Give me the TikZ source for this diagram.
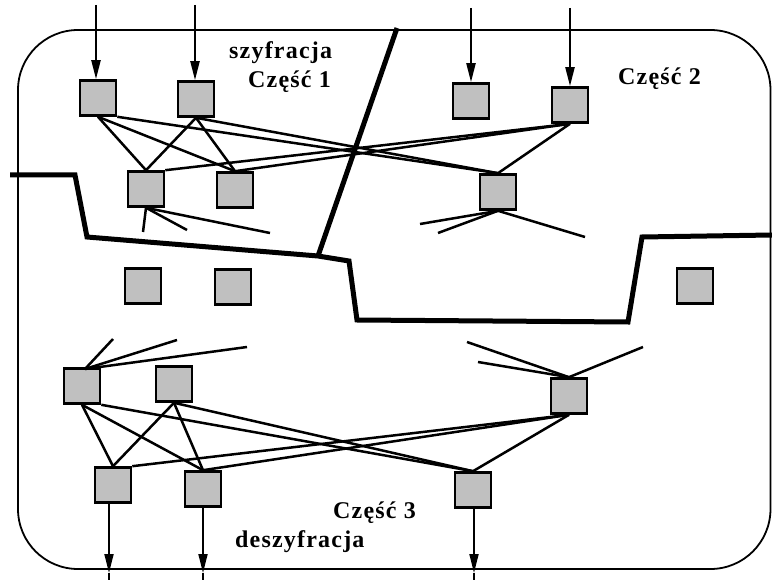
\documentclass[tikz,border=0pt]{standalone}
\usepackage{fontspec}
\setmainfont{Liberation Serif}
\newfontfamily\lblfont[LetterSpace=5]{Liberation Serif}
\usetikzlibrary{arrows.meta}
\definecolor{boxgray}{RGB}{192,192,192}
\begin{document}
\begin{tikzpicture}[x=1pt,y=-1pt,
  unit/.style={draw=black, line width=2.6pt, fill=boxgray, minimum width=36pt, minimum height=35pt, inner sep=0pt},
  frame/.style={line width=1.8pt},
  wall/.style={line width=5pt, line join=miter},
  link/.style={line width=2.5pt},
  feed/.style={line width=2.2pt, -{Triangle[length=19pt,width=9pt]}},
  outfeed/.style={line width=1.8pt, -{Triangle[length=19pt,width=9pt]}},
  label/.style={font=\lblfont\bfseries\fontsize{24}{28}\selectfont, anchor=base west, inner sep=0pt}]
\useasboundingbox (0,0) rectangle (772,580);

% outer frame
\draw[frame, rounded corners=60pt] (18,30) rectangle (770.5,569);

% thick partition lines
\draw[wall] (10,175) -- (75,175) -- (87,237) -- (318,256) -- (349,261) -- (357,320) -- (628,322) -- (642,237) -- (772,235);
\draw[wall] (397,28) -- (318,256);

% units
\node[unit] (u1) at (98,98) {};
\node[unit] (u2) at (196,99) {};
\node[unit] (u5) at (471,101) {};
\node[unit] (u6) at (570,105) {};
\node[unit] (u3) at (146,189) {};
\node[unit] (u4) at (235,190) {};
\node[unit] (u7) at (498,192) {};
\node[unit] (m1) at (143,286) {};
\node[unit] (m2) at (233,287) {};
\node[unit] (m3) at (695,286) {};
\node[unit] (a) at (82,386) {};
\node[unit] (b) at (174,384) {};
\node[unit] (c) at (569,396) {};
\node[unit] (d) at (113,485) {};
\node[unit] (e) at (203,489) {};
\node[unit] (f) at (473,490) {};

% inputs
\coordinate (in1) at (96,5);
\coordinate (in2) at (195,5);
\coordinate (in5) at (471,8);
\coordinate (in6) at (570,8);
\draw[feed] (in1) -- (in1 |- u1.north);
\draw[feed] (in2) -- (in2 |- u2.north);
\draw[feed] (in5) -- (in5 |- u5.north);
\draw[feed] (in6) -- (in6 |- u6.north);

% encryption links
\draw[link] (u1.south) -- (u3.north);
\draw[link] (u1.south) -- (u4.north);
\draw[link] (u1.south east) -- (u7.north);
\draw[link] (u2.south) -- (u3.north);
\draw[link] (u2.south) -- (u4.north);
\draw[link] (u2.south) -- (u7.north);
\draw[link] (u6.south) -- (u3.north east);
\draw[link] (u6.south) -- (u4.north);
\draw[link] (u6.south) -- (u7.north);

% loose ends below the encryption layer
\coordinate (t1) at (143,232);
\coordinate (t2) at (187,230);
\coordinate (t3) at (270,233);
\draw[link] (u3.south) -- (t1);
\draw[link] (u3.south) -- (t2);
\draw[link] (u3.south) -- (t3);
\coordinate (t4) at (420,224);
\coordinate (t5) at (438,233);
\coordinate (t6) at (585,237);
\draw[link] (u7.south) -- (t4);
\draw[link] (u7.south) -- (t5);
\draw[link] (u7.south) -- (t6);

% loose ends above the decryption layer
\coordinate (atop) at (85,369);
\coordinate (r1) at (113,339);
\coordinate (r2) at (177,340);
\coordinate (r3) at (247,347);
\draw[link] (atop) -- (r1);
\draw[link] (atop) -- (r2);
\draw[link] (atop) -- (r3);
\coordinate (r4) at (467,342);
\coordinate (r5) at (478,362);
\coordinate (r6) at (643,347);
\draw[link] (c.north) -- (r4);
\draw[link] (c.north) -- (r5);
\draw[link] (c.north) -- (r6);

% decryption links
\draw[link] (a.south) -- (d.north);
\draw[link] (a.south) -- (e.north);
\draw[link] (a.south east) -- (f.north);
\draw[link] (b.south) -- (d.north);
\draw[link] (b.south) -- (e.north);
\draw[link] (b.south) -- (f.north);
\draw[link] (c.south) -- (d.north east);
\draw[link] (c.south) -- (e.north);
\draw[link] (c.south) -- (f.north);

% outputs
\coordinate (o1) at (109,573);
\coordinate (o2) at (203,573);
\coordinate (o3) at (474,573);
\draw[outfeed] (o1 |- d.south) -- (o1);
\draw[outfeed] (o2 |- e.south) -- (o2);
\draw[outfeed] (o3 |- f.south) -- (o3);
\draw[line width=1.8pt] (o1) -- ++(0,7);
\draw[line width=1.8pt] (o2) -- ++(0,7);
\draw[line width=1.8pt] (o3) -- ++(0,7);

% labels
\node[label] (l1) at (229,59) {szyfracja};
\node[label] (l2) at (248,88) {Część 1};
\node[label] (l3) at (618,85) {Część 2};
\node[label] (l4) at (333,518) {Część 3};
\node[label] (l5) at (235,547) {deszyfracja};
\end{tikzpicture}
\end{document}
